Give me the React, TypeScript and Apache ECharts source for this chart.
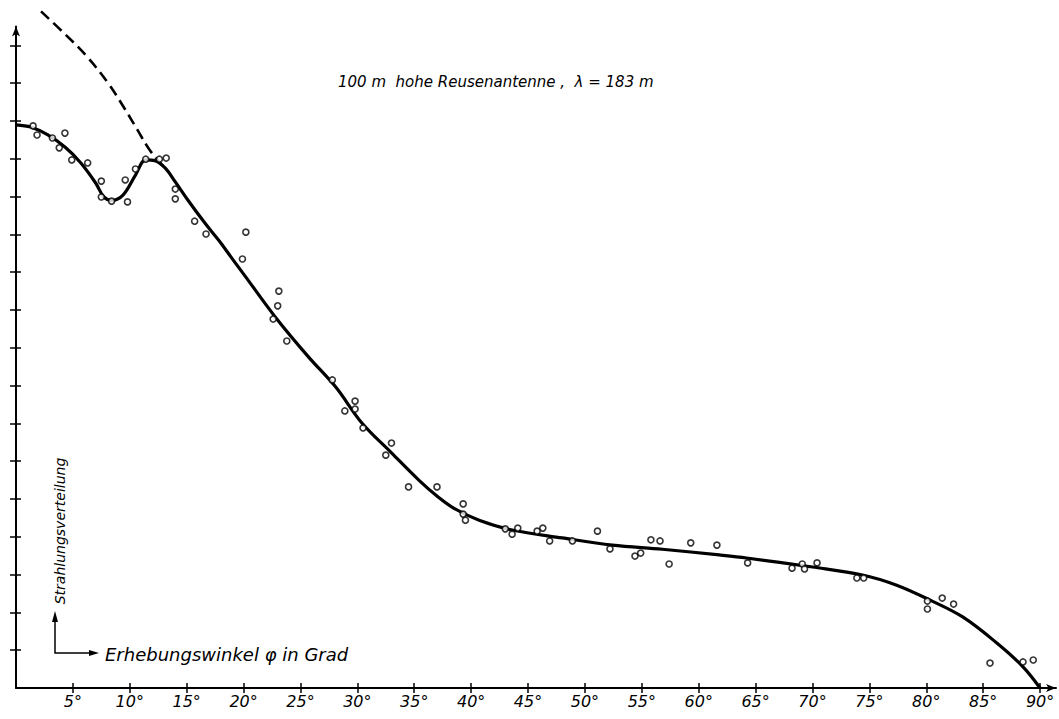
import React, { useEffect, useRef } from "react";
import * as echarts from "echarts";

// Solid fitted curve: [elevation angle (deg), radiation value]
const solidCurve: [number, number][] = [
  [0, 14.9], [1.3, 14.84], [2.8, 14.63], [4.3, 14.31], [5.7, 13.89], [7.0, 13.36],
  [7.7, 13.0], [8.4, 12.9], [9.4, 13.04], [10.5, 13.57], [11.4, 13.97], [12.2, 13.95],
  [13.1, 13.76], [14.0, 13.39], [15.1, 12.91], [16.6, 12.3], [17.8, 11.85], [18.9, 11.4],
  [20.2, 10.87], [22.8, 9.81], [25.7, 8.76], [28.1, 7.96], [30.4, 7.01], [33.0, 6.22],
  [35.4, 5.5], [37.1, 5.05], [38.5, 4.75], [40.7, 4.44], [43.6, 4.18], [48.0, 3.97],
  [52.4, 3.78], [56.8, 3.67], [61.8, 3.52], [64.2, 3.44], [70.0, 3.2], [74.4, 2.99],
  [77.4, 2.72], [80.3, 2.33], [83.2, 1.88], [86.2, 1.19], [88.5, 0.56], [90, 0]
];

// Dashed theoretical curve
const dashedCurve: [number, number][] = [
  [2.2, 17.9], [4.3, 17.3], [6.1, 16.75], [8.1, 16.0], [9.5, 15.35], [10.7, 14.75],
  [11.6, 14.3], [12.4, 13.98], [13.1, 13.76]
];

// Measured points
const measured: [number, number][] = [
  [1.5, 14.87], [1.85, 14.63], [3.2, 14.55], [3.8, 14.29], [4.3, 14.68], [4.9, 13.97],
  [6.3, 13.89], [7.5, 13.41], [7.5, 12.99], [8.4, 12.88], [9.6, 13.44], [9.8, 12.86],
  [10.5, 13.73], [11.4, 13.99], [12.6, 13.99], [13.2, 14.02], [14.0, 13.2], [14.0, 12.94],
  [15.7, 12.35], [16.7, 12.01], [20.2, 12.06], [19.9, 11.35],
  [23.1, 10.5], [23.0, 10.11], [22.6, 9.76], [23.8, 9.18], [27.8, 8.15], [29.8, 7.59],
  [29.8, 7.38], [28.9, 7.33], [30.5, 6.88], [33.0, 6.48], [32.5, 6.16], [34.5, 5.32],
  [37.0, 5.32],
  [39.3, 4.87], [39.3, 4.6], [39.5, 4.44], [43.0, 4.21], [43.6, 4.07], [44.1, 4.23],
  [45.8, 4.15], [46.3, 4.23], [46.9, 3.89], [48.9, 3.89], [51.1, 4.15], [52.2, 3.68],
  [54.4, 3.49], [54.9, 3.57], [55.8, 3.92], [56.6, 3.89], [57.4, 3.28], [59.3, 3.84],
  [61.6, 3.78],
  [64.3, 3.31], [68.2, 3.17], [69.1, 3.28], [69.3, 3.15], [70.4, 3.31], [73.9, 2.91],
  [74.5, 2.91], [80.1, 2.3], [80.1, 2.09], [81.4, 2.38], [82.4, 2.22], [85.6, 0.66],
  [88.5, 0.69], [89.4, 0.74]
];

const xTickValues = [5, 10, 15, 20, 25, 30, 35, 40, 45, 50, 55, 60, 65, 70, 75, 80, 85, 90];
const yTickValues = [1, 2, 3, 4, 5, 6, 7, 8, 9, 10, 11, 12, 13, 14, 15, 16, 17];

const titleText = "100 m  hohe Reusenantenne ,  λ = 183 m";
const yLabelText = "Strahlungsverteilung";
const xLabelText = "Erhebungswinkel φ in Grad";

const FONT = '"DejaVu Sans", sans-serif';

export default function App() {
  const ref = useRef<HTMLDivElement>(null);

  useEffect(() => {
    if (!ref.current) return;
    const chart = echarts.init(ref.current, null, { renderer: "svg" });

    const baseX = {
      type: "value" as const,
      min: 0,
      max: 91.4,
      splitLine: { show: false },
    };
    const baseY = {
      type: "value" as const,
      min: 0,
      max: 17.5,
      splitLine: { show: false },
    };

    chart.setOption({
      animation: false,
      backgroundColor: "#ffffff",
      grid: { left: 16, right: 3, top: 26.5, bottom: 31, containLabel: false },
      xAxis: [
        {
          ...baseX,
          position: "bottom",
          axisLine: {
            show: true,
            lineStyle: { color: "#000", width: 2 },
            symbol: ["none", "arrow"],
            symbolSize: [6, 10],
          },
          axisTick: {
            show: true,
            inside: false,
            length: 5,
            lineStyle: { color: "#000", width: 1.5 },
            customValues: xTickValues,
          },
          axisLabel: {
            show: true,
            customValues: xTickValues,
            formatter: (v: number) => `${v}°`,
            color: "#000",
            fontFamily: FONT,
            fontStyle: "italic",
            fontSize: 16,
            margin: 5,
          },
        },
        {
          ...baseX,
          position: "bottom",
          axisLine: { show: false },
          axisTick: {
            show: true,
            inside: true,
            length: 5,
            lineStyle: { color: "#000", width: 1.5 },
            customValues: xTickValues,
          },
          axisLabel: { show: false },
        },
      ],
      yAxis: [
        {
          ...baseY,
          position: "left",
          axisLine: {
            show: true,
            lineStyle: { color: "#000", width: 2 },
            symbol: ["none", "arrow"],
            symbolSize: [6, 10],
          },
          axisTick: {
            show: true,
            inside: false,
            length: 6,
            lineStyle: { color: "#000", width: 1.5 },
            customValues: yTickValues,
          },
          axisLabel: { show: false },
        },
        {
          ...baseY,
          position: "left",
          axisLine: { show: false },
          axisTick: {
            show: true,
            inside: true,
            length: 5,
            lineStyle: { color: "#000", width: 1.5 },
            customValues: yTickValues,
          },
          axisLabel: { show: false },
        },
      ],
      series: [
        {
          type: "line",
          data: solidCurve,
          smooth: 0.35,
          showSymbol: false,
          lineStyle: { color: "#000", width: 3.2 },
          z: 3,
        },
        {
          type: "line",
          data: dashedCurve,
          smooth: 0.4,
          showSymbol: false,
          clip: false,
          lineStyle: { color: "#000", width: 2.6, type: [11, 6] },
          z: 3,
        },
        {
          type: "scatter",
          data: measured,
          symbol: "circle",
          symbolSize: 6,
          itemStyle: { color: "#fff", borderColor: "#000", borderWidth: 1.6 },
          z: 4,
        },
      ],
      graphic: [
        {
          type: "text",
          left: 338,
          top: 74,
          style: {
            text: titleText,
            font: `italic 15px ${FONT}`,
            fill: "#000",
          },
        },
        {
          type: "text",
          x: 60,
          y: 531,
          rotation: Math.PI / 2,
          style: {
            text: yLabelText,
            font: `italic 14px ${FONT}`,
            fill: "#000",
            align: "center",
            verticalAlign: "middle",
          },
        },
        {
          type: "text",
          x: 105,
          y: 654,
          style: {
            text: xLabelText,
            font: `italic 18px ${FONT}`,
            fill: "#000",
            verticalAlign: "middle",
          },
        },
        {
          type: "polyline",
          shape: { points: [[55, 618], [55, 653], [92, 653]] },
          style: { stroke: "#000", lineWidth: 1.5, fill: null },
        },
        {
          type: "polygon",
          shape: { points: [[52, 622], [58, 622], [55, 611]] },
          style: { fill: "#000" },
        },
        {
          type: "polygon",
          shape: { points: [[89, 650], [89, 656], [99, 653]] },
          style: { fill: "#000" },
        },
      ],
    });

    return () => chart.dispose();
  }, []);

  return (
    <div
      ref={ref}
      style={{ position: "absolute", left: 0, top: 0, width: 1059, height: 719, background: "#fff" }}
    />
  );
}
